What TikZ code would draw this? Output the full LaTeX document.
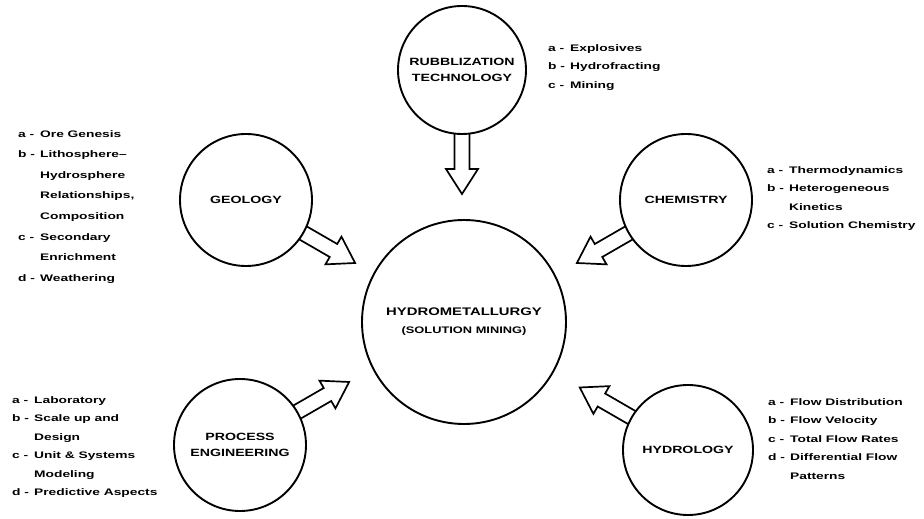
\documentclass[tikz,border=0pt]{standalone}
\usepackage{fontspec}
\setmainfont{Liberation Sans}
\newfontfamily\lett[FakeStretch=1.35]{Liberation Sans}
\newfontfamily\lettw[FakeStretch=1.45]{Liberation Sans}
\newcommand\itm[2]{\makebox[22pt][l]{#1 -}#2}
\newcommand\cnt[1]{\hspace*{22pt}#1}
\begin{document}
\begin{tikzpicture}[x=1pt,y=1pt,
  ring/.style={circle, draw, line width=1.9pt, inner sep=0pt, outer sep=0pt, align=center,
    font=\lett\bfseries\fontsize{10.5}{16}\selectfont},
  hubring/.style={ring, minimum size=204pt, font=\lett\bfseries\fontsize{11}{18}\selectfont},
  satring/.style={ring, minimum size=132pt},
  listtext/.style={anchor=north west, inner sep=0pt, align=left,
    font=\lettw\bfseries\fontsize{9.5}{18.5}\selectfont},
  arrowline/.style={line width=1.7pt, line join=miter},
  blockarrow/.pic={\draw[arrowline] (0,-7.5) -- (35,-7.5) -- (35,-16) -- (60,0) -- (35,16) -- (35,7.5) -- (0,7.5);}
]
\useasboundingbox (0,0) rectangle (924,519);

% circles
\node[hubring] (hyd) at (464,197) {HYDROMETALLURGY\\{\fontsize{9.5}{12}\selectfont (SOLUTION MINING)}};
\node[satring, minimum size=128pt] (rub) at (462,449) {RUBBLIZATION\\TECHNOLOGY};
\node[satring] (geo) at (246,319) {GEOLOGY};
\node[satring] (chem) at (686,319) {CHEMISTRY};
\node[satring] (proc) at (240,74) {PROCESS\\ENGINEERING};
\node[satring, minimum size=130pt] (hydro) at (688,69) {HYDROLOGY};

% block arrows
\pic[rotate=-90] at (rub.-90) {blockarrow};
\pic[rotate=-30] at (geo.-30) {blockarrow};
\pic[rotate=210] at (chem.210) {blockarrow};
\pic[rotate=30] at (proc.30) {blockarrow};
\pic[rotate=150] at (hydro.150) {blockarrow};

% lists
\node[listtext] (rublist) at (548,475) {\itm{a}{Explosives}\\\itm{b}{Hydrofracting}\\\itm{c}{Mining}};
\node[listtext, font=\lettw\bfseries\fontsize{9.5}{20.6}\selectfont] (geolist) at (18,389) {\itm{a}{Ore Genesis}\\\itm{b}{Lithosphere–}\\\cnt{Hydrosphere}\\\cnt{Relationships,}\\\cnt{Composition}\\\itm{c}{Secondary}\\\cnt{Enrichment}\\\itm{d}{Weathering}};
\node[listtext] (chemlist) at (767,353) {\itm{a}{Thermodynamics}\\\itm{b}{Heterogeneous}\\\cnt{Kinetics}\\\itm{c}{Solution Chemistry}};
\node[listtext] (proclist) at (12,123) {\itm{a}{Laboratory}\\\itm{b}{Scale up and}\\\cnt{Design}\\\itm{c}{Unit \& Systems}\\\cnt{Modeling}\\\itm{d}{Predictive Aspects}};
\node[listtext] (hydrolist) at (768,121) {\itm{a}{Flow Distribution}\\\itm{b}{Flow Velocity}\\\itm{c}{Total Flow Rates}\\\itm{d}{Differential Flow}\\\cnt{Patterns}};
\end{tikzpicture}
\end{document}
